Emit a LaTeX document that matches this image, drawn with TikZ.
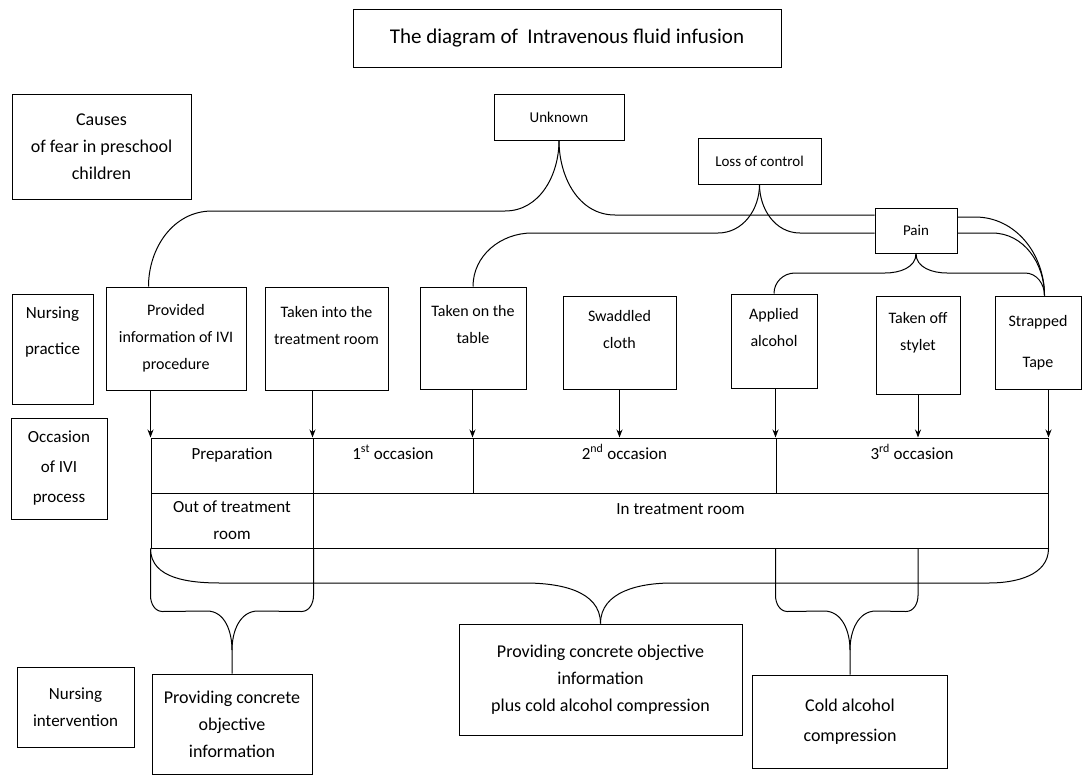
\documentclass[tikz,border=0pt]{standalone}
\usepackage{fontspec}
\setmainfont{Carlito}
\usetikzlibrary{arrows.meta}

\tikzset{
  box/.style={draw, line width=1pt, inner sep=2pt, align=center, font=\fontsize{15}{27}\selectfont},
  practice/.style={box, font=\fontsize{16}{27}\selectfont},
  head/.style={box, font=\fontsize{17}{27}\selectfont},
  cell/.style={draw, line width=1pt, inner sep=0pt, minimum height=55pt, align=center, font=\fontsize{17}{27}\selectfont},
  toptext/.style={text height=12pt, text depth=25pt},
  brace/.style={line width=1pt},
  arr/.style={line width=1pt, -{Stealth[length=8pt,width=6pt]}}
}

\begin{document}
\begin{tikzpicture}[x=1pt,y=1pt]
\useasboundingbox (0,0) rectangle (1083,-776);

% title and row headings
\node[box, font=\fontsize{21}{27}\selectfont, minimum width=428pt, minimum height=57pt] (title) at (567,-38.5) {The diagram of~ Intravenous fluid infusion};
\node[head, font=\fontsize{18}{27}\selectfont, minimum width=179pt, minimum height=105pt] (causes) at (101.5,-146.5) {Causes\\of fear in preschool\\children};
\node[head, font=\fontsize{17}{36}\selectfont, minimum width=81pt, minimum height=110pt] (npractice) at (52.5,-349) {Nursing\\practice\\~};
\node[head, font=\fontsize{17}{30}\selectfont, minimum width=96pt, minimum height=101pt] (occasion) at (59,-468.5) {Occasion\\of IVI\\process};
\node[head, minimum width=117pt, minimum height=80pt] (nint) at (75.5,-707) {Nursing\\intervention};

% causes of fear
\node[box, minimum width=130pt, minimum height=46pt] (unknown) at (559,-117) {Unknown};
\node[box, minimum width=123pt, minimum height=46pt] (loss) at (759.5,-161) {Loss of control};
\node[box, minimum width=82pt, minimum height=45pt] (pain) at (916,-230.5) {Pain};

% nursing practice
\node[practice, minimum width=140pt, minimum height=103pt] (provided) at (176,-338.5) {Provided\\information of IVI\\procedure};
\node[practice, minimum width=123pt, minimum height=103pt] (takeninto) at (326.5,-338.5) {Taken into the\\treatment room\\~};
\node[practice, minimum width=106pt, minimum height=102pt] (taken) at (473,-338) {Taken on the\\table\\~};
\node[practice, minimum width=113pt, minimum height=93pt] (swaddled) at (619.5,-342.5) {Swaddled\\cloth\\~};
\node[practice, minimum width=86pt, minimum height=94pt] (applied) at (774,-341) {Applied\\alcohol\\~};
\node[practice, minimum width=84pt, minimum height=98pt] (stylet) at (918,-345) {Taken off\\stylet\\~};
\node[practice, minimum width=86pt, minimum height=93pt] (strapped) at (1038,-342.5) {Strapped\\[14pt]Tape};

% occasion table
\node[cell, toptext, minimum width=162pt] (prep) at (232,-465.5) {Preparation};
\node[cell, toptext, minimum width=160pt] (occ1) at (393,-465.5) {1\textsuperscript{st} occasion};
\node[cell, toptext, minimum width=303pt] (occ2) at (624.5,-465.5) {2\textsuperscript{nd} occasion};
\node[cell, toptext, minimum width=272pt] (occ3) at (912,-465.5) {3\textsuperscript{rd} occasion};
\node[cell, minimum width=162pt] (outroom) at (232,-520.5) {Out of treatment\\room};
\node[cell, toptext, minimum width=735pt] (inroom) at (680.5,-520.5) {In treatment room};

% nursing intervention
\node[box, font=\fontsize{18}{27}\selectfont, minimum width=160pt, minimum height=100pt] (int1) at (232,-724) {Providing concrete\\objective\\information};
\node[box, font=\fontsize{18}{27}\selectfont, minimum width=283pt, minimum height=111pt] (int2) at (600.5,-679.5) {Providing concrete objective\\information\\plus cold alcohol compression};
\node[box, font=\fontsize{18}{30}\selectfont, minimum width=195pt, minimum height=93pt] (int3) at (850,-721.5) {Cold alcohol\\compression};

% causes to practice
\draw[brace] (unknown.south) to[out=-90,in=0] (505,-211) -- (212,-211) to[out=180,in=90] ([xshift=43pt]provided.north west);
\draw[brace] (unknown.south) to[out=-90,in=180] (615,-215) -- (pain.west |- 0,-215);
\draw[brace] (pain.east |- 0,-217) -- (975,-217) to[out=0,in=90] ([xshift=50pt]strapped.north west);
\draw[brace] (loss.south) to[out=-90,in=0] (718,-233) -- (532,-233) to[out=180,in=90] (taken.north);
\draw[brace] (loss.south) to[out=-90,in=180] (800,-233) -- (pain.west |- 0,-233);
\draw[brace] (pain.east |- 0,-233) -- (992,-233) to[out=0,in=90] ([xshift=50pt]strapped.north west);
\draw[brace] (pain.south) to[out=-90,in=0] (885,-273) -- (795,-273) to[out=180,in=90] (applied.north);
\draw[brace] (pain.south) to[out=-90,in=180] (947,-273) -- (1025,-273) to[out=0,in=90] ([xshift=50pt]strapped.north west);

% practice to occasion
\draw[arr] (provided.south -| prep.north west) -- (prep.north west);
\draw[arr] (takeninto.south -| occ1.north west) -- (occ1.north west);
\draw[arr] (taken.south -| occ2.north west) -- (occ2.north west);
\draw[arr] (swaddled.south) -- (swaddled.south |- occ2.north);
\draw[arr] (applied.south -| occ3.north west) -- (occ3.north west);
\draw[arr] (stylet.south) -- (stylet.south |- occ3.north);
\draw[arr] (strapped.south -| occ3.north east) -- (occ3.north east);

% occasion to intervention
\draw[brace] (outroom.south west) -- ++(0,-47) to[out=-90,in=180] ++(12,-16) -- (207,-611) to[out=0,in=90] (int1.north |- 0,-650) -- (int1.north);
\draw[brace] (outroom.south east) -- ++(0,-47) to[out=-90,in=0] ++(-12,-16) -- (258,-611) to[out=180,in=90] (int1.north |- 0,-650);
\draw[brace] (outroom.south west) to[out=-90,in=180] (221,-583) -- (525,-583) to[out=0,in=90] (int2.north);
\draw[brace] (inroom.south east) to[out=-90,in=0] (989,-583) -- (672,-583) to[out=180,in=90] (int2.north);
\draw[brace] (occ3.south west |- inroom.south) -- ++(0,-47) to[out=-90,in=180] ++(12,-16) -- (824,-611) to[out=0,in=90] (int3.north |- 0,-650) -- (int3.north);
\draw[brace] (stylet.south |- inroom.south) -- ++(0,-47) to[out=-90,in=0] ++(-12,-16) -- (876,-611) to[out=180,in=90] (int3.north |- 0,-650);
\end{tikzpicture}
\end{document}
